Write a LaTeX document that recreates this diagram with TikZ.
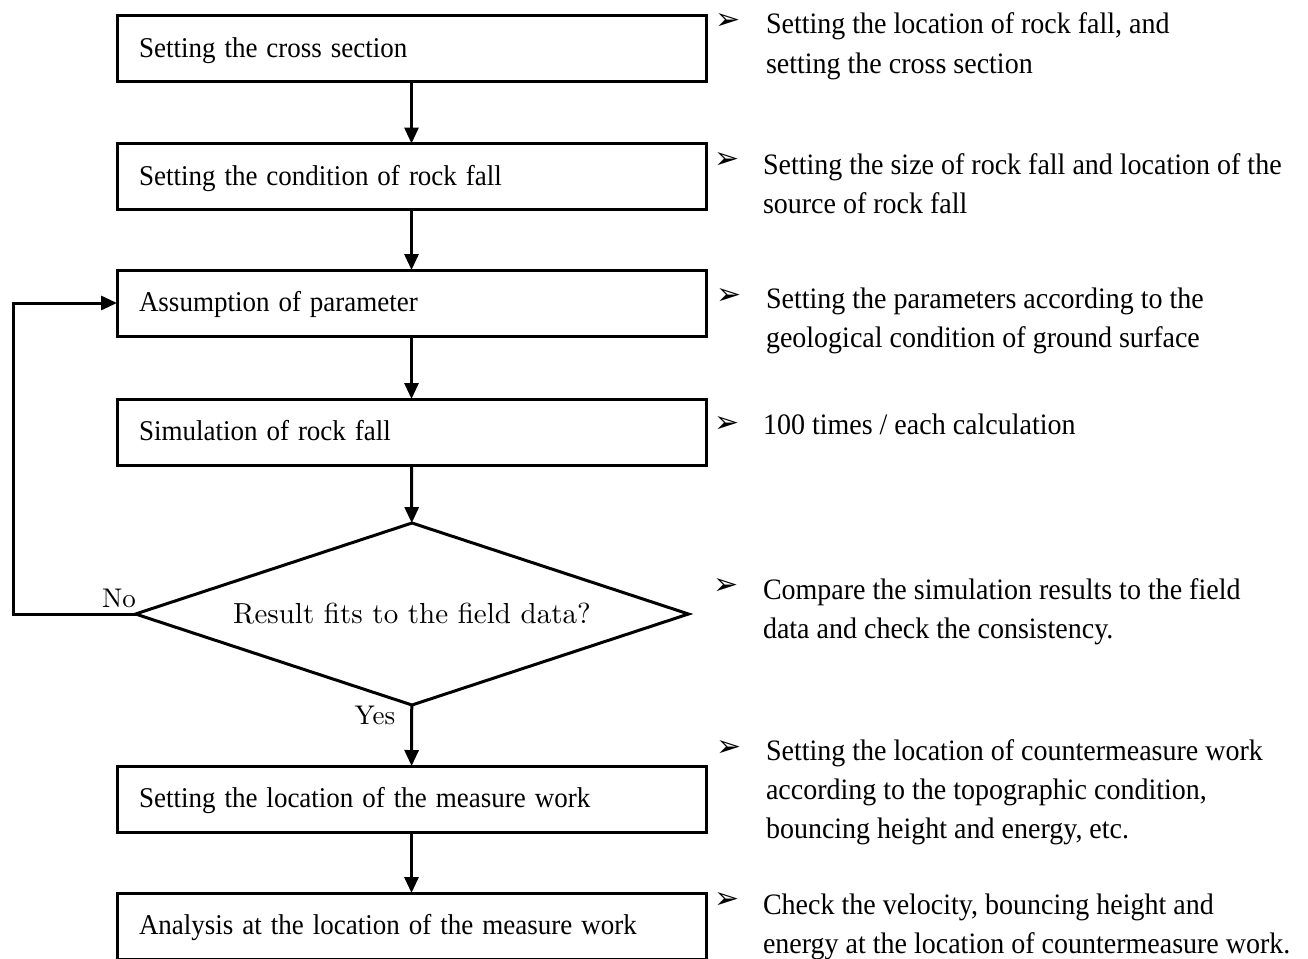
\documentclass[tikz,border=0pt]{standalone}
\usepackage{fontspec}
\usepackage{graphicx}
\usetikzlibrary{arrows.meta,shapes.geometric}
\newfontfamily\tms{Liberation Serif}
\newfontfamily\lmten{lmroman10-regular}[Extension=.otf]
\newfontfamily\dingfont{DejaVu Sans}
\newcommand{\arrbullet}{{\dingfont\symbol{"27A2}}}
% slightly tall serif lettering
\newcommand{\tall}[1]{\scalebox{1}[1.06]{#1}}
% stacked lines whose baseline is that of the first line
\newcommand{\stacked}[1]{\tall{\vtop{\halign{##\hfil\cr #1\crcr}}}}
\begin{document}
\begin{tikzpicture}[x=1pt,y=-1pt,
  every node/.style={inner sep=0pt,outer sep=0pt},
  stepbox/.style={draw,line width=3pt,minimum width=589pt,minimum height=66pt,
    text width=545pt,text height=25pt,text depth=8pt,align=left,inner xsep=22pt,
    font=\tms\fontsize{27}{39}\selectfont},
  decision/.style={draw,diamond,aspect=3.04,line width=3pt,minimum width=553pt,
    minimum height=182pt,font=\lmten\fontsize{29}{34}\selectfont},
  flow/.style={line width=3pt,-{Triangle[length=16pt,width=14pt]}},
  note/.style={anchor=base west,font=\tms\fontsize{28}{36.8}\selectfont},
  bulletmark/.style={anchor=center,font=\fontsize{30}{30}\selectfont},
  answer/.style={anchor=center,font=\lmten\fontsize{27}{27}\selectfont}]
\useasboundingbox (0,0) rectangle (1308,958);

% main column of steps
\node[stepbox] (s1) at (411.5,48.5) {\tall{Setting the cross section}};
\node[stepbox] (s2) at (411.5,176.5) {\tall{Setting the condition of rock fall}};
\node[stepbox] (s3) at (411.5,303) {\tall{Assumption of parameter}};
\node[stepbox] (s4) at (411.5,432) {\tall{Simulation of rock fall}};
\node[decision] (d) at (412,614) {Result fits to the field data?};
\node[stepbox] (s5) at (411.5,799) {\tall{Setting the location of the measure work}};
\node[stepbox] (s6) at (411.5,926) {\tall{Analysis at the location of the measure work}};

\draw[flow] (s1) -- (s2);
\draw[flow] (s2) -- (s3);
\draw[flow] (s3) -- (s4);
\draw[flow] (s4) -- (d);
\draw[flow] (d) -- (s5);
\draw[flow] (s5) -- (s6);

% feedback loop when the result does not fit
\coordinate (c1) at (13,614);
\coordinate (c2) at (13,303);
\draw[flow] (d.west) -- (c1) -- (c2) -- (s3.west);
\node[answer] (no) at (119,598) {No};
\node[answer] (yes) at (375,715) {Yes};

% remarks on the right
\node[bulletmark] (b1) at (728,22) {\arrbullet};
\node[note] (n1) at (766,34) {\stacked{Setting the location of rock fall, and\cr setting the cross section}};
\node[bulletmark] (b2) at (727,160) {\arrbullet};
\node[note] (n2) at (763,174) {\stacked{Setting the size of rock fall and location of the\cr source of rock fall}};
\node[bulletmark] (b3) at (729,296) {\arrbullet};
\node[note] (n3) at (766,308) {\stacked{Setting the parameters according to the\cr geological condition of ground surface}};
\node[bulletmark] (b4) at (727,424) {\arrbullet};
\node[note] (n4) at (763,434) {\tall{100 times / each calculation}};
\node[bulletmark] (b5) at (726,586) {\arrbullet};
\node[note] (n5) at (763,599) {\stacked{Compare the simulation results to the field\cr data and check the consistency.}};
\node[bulletmark] (b6) at (729,748) {\arrbullet};
\node[note] (n6) at (766,760) {\stacked{Setting the location of countermeasure work\cr according to the topographic condition,\cr bouncing height and energy, etc.}};
\node[bulletmark] (b7) at (727,900) {\arrbullet};
\node[note] (n7) at (763,914) {\stacked{Check the velocity, bouncing height and\cr energy at the location of countermeasure work.}};
\end{tikzpicture}
\end{document}
